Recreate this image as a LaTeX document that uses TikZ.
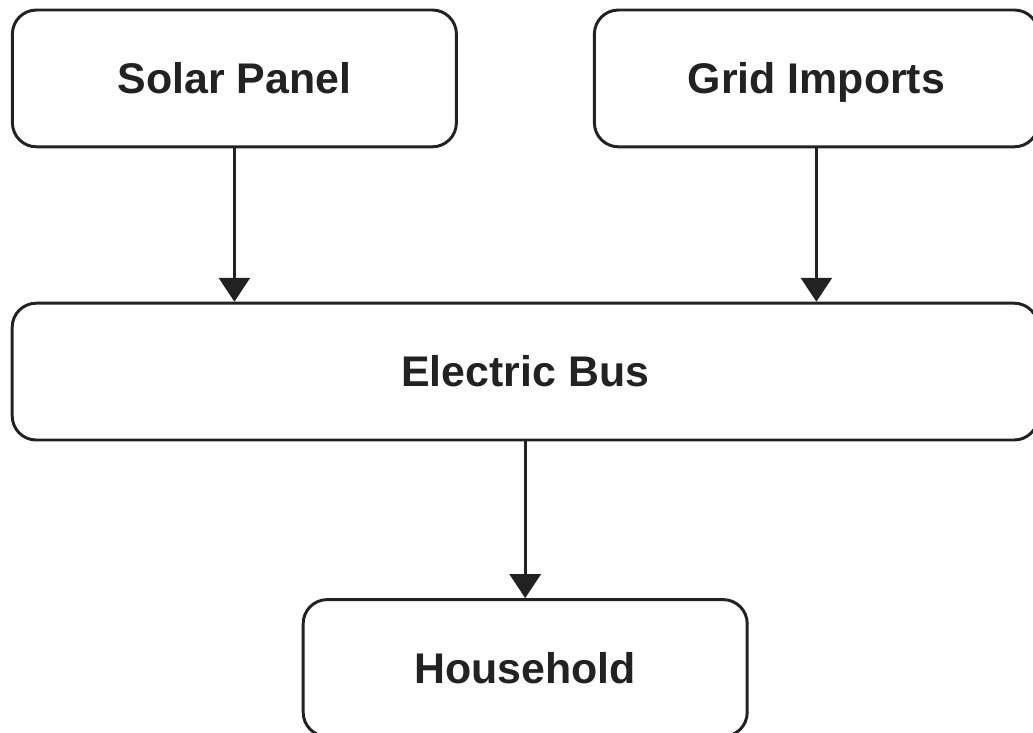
\documentclass[tikz,border=0pt]{standalone}
\usepackage{fontspec}
\setsansfont{Liberation Sans}
\usetikzlibrary{arrows.meta, positioning}
\definecolor{cink}{HTML}{222222}
\tikzset{
  every picture/.style={font=\sffamily\bfseries, line width=2.1pt},
  box/.style={draw=cink, fill=white, text=cink, rounded corners=0.6cm, align=center, minimum height=3.42cm, text height=21.8pt, text depth=0pt, font=\sffamily\bfseries\fontsize{30.5}{36}\selectfont},
  arrow/.style={-{Triangle[length=17pt, width=22pt]}, draw=cink, line width=2.1pt},
}
\begin{document}
\begin{tikzpicture}
  \useasboundingbox (0,0) rectangle (25.825,-18.325);
  \node[box, minimum width=11.1cm] (solar) at (5.86,-1.96) {Solar Panel};
  \node[box, minimum width=11.1cm] (grid) at (20.41,-1.96) {Grid Imports};
  \node[box, minimum width=25.65cm] (bus) at (13.13,-9.29) {Electric Bus};
  \node[box, minimum width=11.1cm] (home) at (13.13,-16.7) {Household};
  % feeds into the bus straight down from each source
  \foreach \n in {solar, grid} \draw[arrow] (\n.south) -- (\n.south |- bus.north);
  \draw[arrow] (bus.south) -- (home.north);
\end{tikzpicture}
\end{document}
